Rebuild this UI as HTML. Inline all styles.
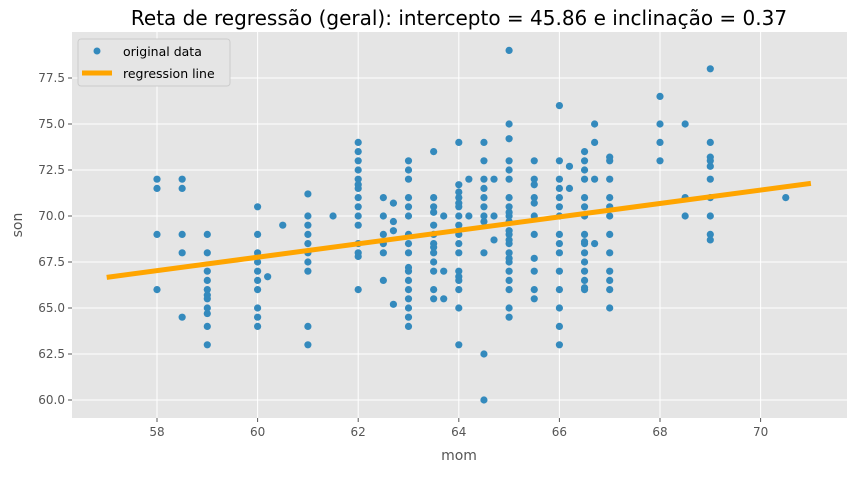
<!DOCTYPE html>
<html><head><meta charset="utf-8"><style>
body{margin:0;background:#fff;font-family:"Liberation Sans","DejaVu Sans",sans-serif}
</style></head><body>
<svg id="chart" width="856" height="472" xmlns="http://www.w3.org/2000/svg" font-family="DejaVu Sans, Liberation Sans, sans-serif">
<text x="459" y="25" text-anchor="middle" font-size="20" fill="#000">Reta de regressão (geral): intercepto = 45.86 e inclinação = 0.37</text>
<rect x="72" y="32" width="775" height="386" fill="#E5E5E5"/>
<g id="grid"></g>
<g id="points"></g>
<g id="line"></g>
<g id="ticks"></g>
<text x="459" y="460" text-anchor="middle" font-size="14" fill="#555">mom</text>
<text transform="translate(22,225) rotate(-90)" text-anchor="middle" font-size="14" fill="#555">son</text>
<g>
<rect x="78" y="39" width="152" height="47" rx="3" fill="#E5E5E5" stroke="#ccc" stroke-width="1"/>
<circle cx="97" cy="51" r="3.5" fill="#348ABD"/>
<text x="123" y="56" font-size="12.5" fill="#000">original data</text>
<line x1="82" y1="73" x2="112" y2="73" stroke="#FFA500" stroke-width="5"/>
<text x="123" y="78" font-size="12.5" fill="#000">regression line</text>
</g>
</svg>
<script>
const xTicks=[58,60,62,64,66,68,70];
const yTicks=[60.0,62.5,65.0,67.5,70.0,72.5,75.0,77.5];
const momValues=[58,58.5,59,60,60.2,60.5,61,61.5,62,62.5,62.7,63,63.5,63.7,64,64.2,64.5,64.7,65,65.5,66,66.2,66.5,66.7,67,68,68.5,69,70.5];
const sonValues=[
[72,71.5,69,66],
[72,71.5,69,68,64.5],
[69,68,67,66.5,66,65.7,65.5,65,64.7,64,63],
[70.5,69,68,67.8,67.5,67,66.5,66,65,64.5,64],
[66.7],
[69.5],
[71.2,70,69.5,69,68.5,68,67.5,67,64,63],
[70],
[74,73.5,73,72.5,72,71.7,71.5,71,70.5,70,69.5,68.5,68,67.8,66],
[71,70,69,68.5,68,66.5],
[70.7,69.7,69.2,65.2],
[73,72.5,72,71,70.5,70,69,68.5,68,67.2,67,66.5,66,65.5,65,64.5,64],
[73.5,71,70.5,70.2,69.5,69,68.5,68.3,68,67.5,67,66,65.5],
[70,67,65.5],
[74,71.7,71.3,71,70.7,70.5,70,69.5,69,68.5,68,67,66.7,66.5,66,65,63],
[72,70],
[74,73,72,71.5,71,70.5,70,69.7,68,62.5,60],
[72,70,68.7],
[79,75,74.2,73,72.5,72,71,70.5,70.2,70,69.7,69.2,69,68.7,68.5,68,67.7,67.5,67,66.5,66,65,64.5],
[73,72,71.7,71,70.7,70,69,67.7,67,66,65.5],
[76,73,72,71.5,71,70.5,70,69,68.5,68,67,66,65,64,63],
[72.7,71.5],
[73.5,73,72.5,72,71,70.5,70,69,68.6,68.5,68,67.5,67,66.5,66.1,66],
[75,74,72,68.5],
[73.2,73,72,71,70.5,70,69,68,67,66.5,66,65],
[76.5,75,74,73],
[75,71,70],
[78,74,73.2,73,72.7,72,71,70,69,68.7],
[71]
];
const intercept=45.86, slope=0.365;
const lineX=[57,71];
const NS="http://www.w3.org/2000/svg";
const sx=v=>157+(v-58)*50.3;
const sy=v=>400-(v-60)*18.4;
function mk(tag,attrs,parent){const e=document.createElementNS(NS,tag);for(const k in attrs)e.setAttribute(k,attrs[k]);document.getElementById(parent).appendChild(e);return e;}
xTicks.forEach(t=>{
 const g=mk('line',{x1:sx(t),x2:sx(t),y1:32,y2:418,stroke:'#fff','stroke-width':1},'grid');
 
 
 const tk=mk('line',{x1:sx(t),x2:sx(t),y1:418,y2:422,stroke:'#555'},'ticks');
 
 
 const l=mk('text',{x:sx(t),y:436,'text-anchor':'middle','font-size':12,fill:'#555'},'ticks');
 l.textContent=t;
 
 
});
yTicks.forEach(t=>{
 const g=mk('line',{x1:72,x2:847,y1:sy(t),y2:sy(t),stroke:'#fff','stroke-width':1},'grid');
 
 
 const tk=mk('line',{x1:68,x2:72,y1:sy(t),y2:sy(t),stroke:'#555'},'ticks');
 
 
 const l=mk('text',{x:65,y:sy(t)+4,'text-anchor':'end','font-size':12,fill:'#555'},'ticks');
 l.textContent=t.toFixed(1);
 
 
});
momValues.forEach((m,i)=>{
 sonValues[i].forEach(s=>{
  const c=mk('circle',{cx:sx(m),cy:sy(s),r:3.6,fill:'#348ABD'},'points');
  
  
 });
});
const ln=mk('line',{x1:sx(lineX[0]),y1:sy(intercept+slope*lineX[0]),x2:sx(lineX[1]),y2:sy(intercept+slope*lineX[1]),stroke:'#FFA500','stroke-width':5},'line');


</script>
</body></html>
